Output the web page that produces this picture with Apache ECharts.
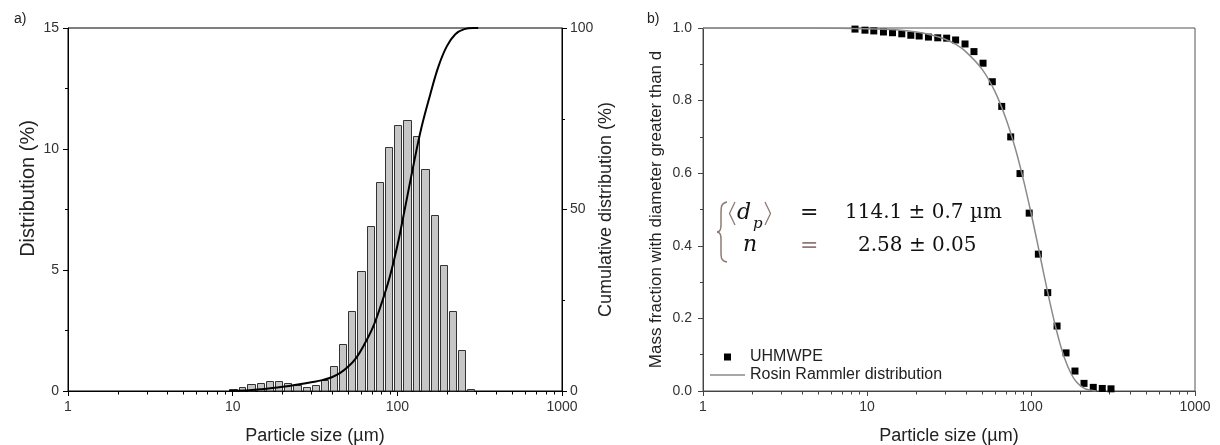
<!DOCTYPE html>
<html>
<head>
<meta charset="utf-8">
<script src="https://cdn.jsdelivr.net/npm/echarts@6/dist/echarts.min.js"></script>
<style>
  html, body { margin: 0; padding: 0; background: #fff; }
  #chart { width: 1220px; height: 445px; }
</style>
</head>
<body>
<div id="chart"></div>
<script>
// a) histogram: bin edges (µm) and distribution (%)
var binEdges = [9.4, 10.7, 12.1, 13.8, 15.7, 17.8, 20.3, 23.0, 26.2, 29.7, 33.8, 38.4, 43.7, 49.6,
  56.4, 64.1, 72.9, 82.8, 94.2, 107, 122, 138, 157, 179, 203, 231, 262, 298];
var distValues = [0.10, 0.18, 0.28, 0.35, 0.40, 0.40, 0.32, 0.24, 0.18, 0.24, 0.47, 1.04, 1.96, 3.29,
  4.94, 6.81, 8.62, 10.1, 11.0, 11.19, 10.54, 9.18, 7.29, 5.22, 3.29, 1.69, 0.10];

// a) cumulative distribution (%)
var cumSizes = [9.5, 12, 15, 18, 22, 26, 30, 35, 40, 45, 50, 56, 63, 71, 80, 90, 100, 112, 125, 140,
  158, 178, 200, 225, 255, 290, 310];
var cumValues = [0, 0.15, 0.5, 0.9, 1.4, 1.9, 2.4, 3.0, 3.8, 5.0, 6.6, 9.0, 12.8, 17.5, 24, 31.5, 40,
  51, 62, 72.5, 81.5, 89.5, 95, 98.3, 99.7, 100, 100];

// b) UHMWPE: mass fraction with diameter greater than d
var massSizes = [8.45, 9.72, 11.0, 12.6, 14.3, 16.3, 18.5, 20.8, 23.7, 27.0, 30.6, 34.7, 39.6, 44.9,
  51.0, 58.1, 66.3, 75.2, 85.7, 97.5, 110.9, 126.5, 144.2, 163.5, 185.4, 210.5, 239.7, 272, 307.5];
var massValues = [0.997, 0.994, 0.992, 0.989, 0.987, 0.984, 0.980, 0.978, 0.975, 0.973, 0.972, 0.967,
  0.956, 0.935, 0.903, 0.852, 0.784, 0.700, 0.599, 0.490, 0.377, 0.271, 0.179, 0.105, 0.055, 0.021,
  0.010, 0.007, 0.006];

// b) Rosin Rammler curve
var rrSizes = [1, 5, 10, 15, 20, 25, 30, 35, 40, 50, 60, 70, 80, 90, 100, 110, 120, 130, 140, 150, 160,
  175, 190, 210, 230, 250];
var rrValues = [1.000, 1.000, 0.998, 0.995, 0.989, 0.980, 0.969, 0.954, 0.935, 0.888, 0.827, 0.753,
  0.670, 0.581, 0.491, 0.403, 0.320, 0.247, 0.184, 0.132, 0.091, 0.049, 0.024, 0.008, 0.002, 0.000];

// log axis minor ticks
var minorTicks = [2, 3, 4, 5, 6, 7, 8, 9, 20, 30, 40, 50, 60, 70, 80, 90, 200, 300, 400, 500, 600, 700, 800, 900];

var sans = 'Liberation Sans, Arial, sans-serif';
var serif = 'DejaVu Serif, serif';
var brown = '#8f7a74';

function minorTickItem(color) {
  return function (params, api) {
    var p = api.coord([api.value(0), api.value(1)]);
    var x = Math.round(p[0]) + 0.5;
    return {
      type: 'line',
      shape: { x1: x, y1: p[1], x2: x, y2: p[1] + 3.5 },
      style: { stroke: color, lineWidth: 1 }
    };
  };
}

function xAxisCfg(grid, color) {
  return {
    gridIndex: grid,
    type: 'log',
    logBase: 10,
    min: 1,
    max: 1000,
    name: 'Particle size (µm)',
    nameLocation: 'middle',
    nameGap: 36,
    nameTextStyle: { fontSize: 18, color: '#222', fontFamily: sans },
    axisLine: { show: true, lineStyle: { color: color, width: 1 } },
    axisTick: { show: true, inside: false, length: 5, lineStyle: { color: color } },
    axisLabel: { fontSize: 14, color: '#333', margin: 9, fontFamily: sans,
      formatter: function (v) { return String(Math.round(v)); } },
    splitLine: { show: false }
  };
}

// thin brace segment
function brace(x1, y1, c1x, c1y, c2x, c2y, x2, y2) {
  return {
    type: 'bezierCurve',
    shape: { x1: x1, y1: y1, cpx1: c1x, cpy1: c1y, cpx2: c2x, cpy2: c2y, x2: x2, y2: y2 },
    style: { stroke: brown, fill: null, lineWidth: 1.5 }
  };
}

var chart = echarts.init(document.getElementById('chart'));

var option = {
  animation: false,
  textStyle: { fontFamily: sans },
  grid: [
    { left: 68, top: 28, width: 494, height: 363, show: true, borderColor: '#000', borderWidth: 1,
      containLabel: false, outerBoundsMode: 'none' },
    { left: 703, top: 28, width: 492, height: 363, show: true, borderColor: '#555', borderWidth: 1,
      containLabel: false, outerBoundsMode: 'none' }
  ],
  xAxis: [xAxisCfg(0, '#000'), xAxisCfg(1, '#444')],
  yAxis: [
    {
      gridIndex: 0, type: 'value', min: 0, max: 15, interval: 5,
      name: 'Distribution (%)', nameLocation: 'middle', nameGap: 30,
      nameTextStyle: { fontSize: 20, color: '#222', padding: [0, 0, 0, 42] },
      axisLine: { show: true, lineStyle: { color: '#000' } },
      axisTick: { show: true, length: 5, lineStyle: { color: '#000' } },
      minorTick: { show: true, splitNumber: 2, length: 3, lineStyle: { color: '#000' } },
      axisLabel: { fontSize: 14, color: '#333', margin: 9 },
      splitLine: { show: false }
    },
    {
      gridIndex: 0, type: 'value', position: 'right', min: 0, max: 100, interval: 50,
      name: 'Cumulative distribution (%)', nameLocation: 'middle', nameGap: 34, nameRotate: 90,
      nameTextStyle: { fontSize: 18, color: '#222' },
      axisLine: { show: true, lineStyle: { color: '#000' } },
      axisTick: { show: true, length: 5, lineStyle: { color: '#000' } },
      minorTick: { show: true, splitNumber: 2, length: 3, lineStyle: { color: '#000' } },
      axisLabel: { fontSize: 14, color: '#333', margin: 8 },
      splitLine: { show: false }
    },
    {
      gridIndex: 1, type: 'value', min: 0, max: 1, interval: 0.2,
      name: 'Mass fraction with diameter greater than d', nameLocation: 'middle', nameGap: 38,
      nameTextStyle: { fontSize: 17, color: '#222' },
      axisLine: { show: true, lineStyle: { color: '#444' } },
      axisTick: { show: true, length: 5, lineStyle: { color: '#444' } },
      minorTick: { show: true, splitNumber: 2, length: 3, lineStyle: { color: '#444' } },
      axisLabel: { fontSize: 14, color: '#333', margin: 11, formatter: function (v) { return v.toFixed(1); } },
      splitLine: { show: false }
    }
  ],
  legend: {
    orient: 'vertical',
    left: 705,
    top: 344,
    itemWidth: 35,
    itemHeight: 7,
    itemGap: 2,
    selectedMode: false,
    symbolKeepAspect: true,
    textStyle: { fontSize: 16, color: '#222' },
    data: [
      { name: 'UHMWPE', icon: 'path://M0 0H10V10H0Z' },
      { name: 'Rosin Rammler distribution', icon: 'path://M0 0H70V3H0Z' }
    ]
  },
  series: [
    {
      type: 'custom',
      name: 'Distribution',
      xAxisIndex: 0,
      yAxisIndex: 0,
      encode: { x: [0, 1], y: 2 },
      data: distValues.map(function (v, i) { return [binEdges[i], binEdges[i + 1], v]; }),
      renderItem: function (params, api) {
        var p0 = api.coord([api.value(0), 0]);
        var p1 = api.coord([api.value(1), api.value(2)]);
        var x0 = Math.round(p0[0]) + 1.5;
        var x1 = Math.round(p1[0]) - 0.5;
        var y1 = Math.round(p1[1]) + 0.5;
        return {
          type: 'rect',
          shape: { x: x0, y: y1, width: x1 - x0, height: p0[1] - y1 },
          style: { fill: '#c6c6c6', stroke: '#333', lineWidth: 1 }
        };
      }
    },
    {
      type: 'line',
      name: 'Cumulative',
      xAxisIndex: 0,
      yAxisIndex: 1,
      smooth: 0.4,
      symbol: 'none',
      lineStyle: { color: '#000', width: 2 },
      data: cumSizes.map(function (s, i) { return [s, cumValues[i]]; })
    },
    {
      type: 'custom',
      xAxisIndex: 0,
      yAxisIndex: 0,
      silent: true,
      clip: false,
      encode: { x: 0, y: 1 },
      data: minorTicks.map(function (v) { return [v, 0]; }),
      renderItem: minorTickItem('#000')
    },
    {
      type: 'line',
      name: 'Rosin Rammler distribution',
      xAxisIndex: 1,
      yAxisIndex: 2,
      smooth: 0.3,
      symbol: 'none',
      color: '#8a8a8a',
      lineStyle: { color: '#8a8a8a', width: 1.5 },
      data: rrSizes.map(function (s, i) { return [s, rrValues[i]]; })
    },
    {
      type: 'scatter',
      name: 'UHMWPE',
      xAxisIndex: 1,
      yAxisIndex: 2,
      symbol: 'rect',
      symbolSize: 7,
      itemStyle: { color: '#000', opacity: 1 },
      data: massSizes.map(function (s, i) { return [s, massValues[i]]; })
    },
    {
      type: 'custom',
      xAxisIndex: 1,
      yAxisIndex: 2,
      silent: true,
      clip: false,
      encode: { x: 0, y: 1 },
      data: minorTicks.map(function (v) { return [v, 0]; }),
      renderItem: minorTickItem('#444')
    }
  ],
  graphic: [
    { type: 'text', x: 14, y: 19, style: { text: 'a)', font: '14px ' + sans, fill: '#222', verticalAlign: 'middle' } },
    { type: 'text', x: 647, y: 19, style: { text: 'b)', font: '14px ' + sans, fill: '#222', verticalAlign: 'middle' } },
    // brace
    brace(727, 202, 721, 203, 721, 207, 721, 214),
    { type: 'line', shape: { x1: 721, y1: 214, x2: 721, y2: 225 }, style: { stroke: brown, lineWidth: 1.5 } },
    brace(721, 225, 721, 230, 720, 232, 717, 232),
    brace(717, 232, 720, 232, 721, 234, 721, 239),
    { type: 'line', shape: { x1: 721, y1: 239, x2: 721, y2: 251 }, style: { stroke: brown, lineWidth: 1.5 } },
    brace(721, 251, 721, 258, 721, 261, 727, 262),
    // angle brackets
    { type: 'polyline', shape: { points: [[735, 202], [729.5, 213.5], [735, 225]] }, style: { stroke: brown, fill: null, lineWidth: 1.3 } },
    { type: 'polyline', shape: { points: [[765, 202], [770.5, 213.5], [765, 225]] }, style: { stroke: brown, fill: null, lineWidth: 1.3 } },
    { type: 'text', x: 737, y: 213, style: { text: 'd', font: 'italic 22px ' + serif, fill: '#111', verticalAlign: 'middle' } },
    { type: 'text', x: 753, y: 224, style: { text: 'p', font: 'italic 15px ' + serif, fill: '#111', verticalAlign: 'middle' } },
    { type: 'text', x: 800, y: 213, style: { text: '=', font: '22px ' + serif, fill: '#111', verticalAlign: 'middle' } },
    { type: 'text', x: 845, y: 213, style: { text: '114.1 ± 0.7 µm', font: '20px ' + serif, fill: '#111', verticalAlign: 'middle' } },
    { type: 'text', x: 743, y: 245, style: { text: 'n', font: 'italic 22px ' + serif, fill: '#111', verticalAlign: 'middle' } },
    { type: 'text', x: 800, y: 246, style: { text: '=', font: '22px ' + serif, fill: brown, verticalAlign: 'middle' } },
    { type: 'text', x: 858, y: 246, style: { text: '2.58 ± 0.05', font: '20px ' + serif, fill: '#111', verticalAlign: 'middle' } }
  ]
};

chart.setOption(option);
</script>
</body>
</html>
